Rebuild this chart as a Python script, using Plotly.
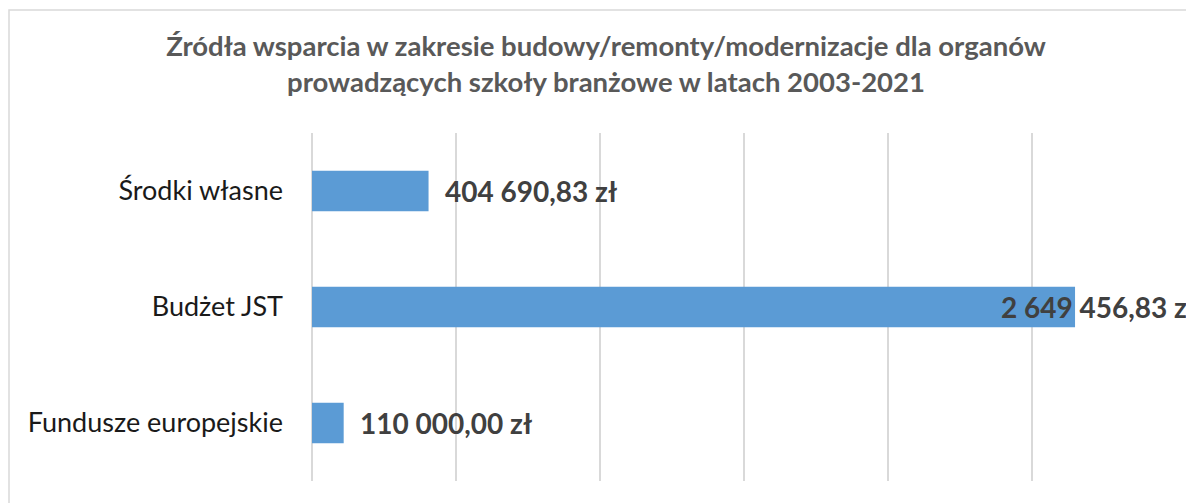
import plotly.graph_objects as go

categories = ["Środki własne", "Budżet JST", "Fundusze europejskie"]
values = [404690.83, 2649456.83, 110000.00]
title_lines = [
    "Źródła wsparcia w zakresie budowy/remonty/modernizacje dla organów",
    "prowadzących szkoły branżowe w latach 2003-2021",
]


def fmt_pln(v):
    s = f"{v:,.2f}".replace(",", " ").replace(".", ",")
    return s + " zł"


labels = [fmt_pln(v) for v in values]
label_shift = [14, -76, 14]

W, H = 1194, 503
# page body has an 8px margin; figure coordinates are page coordinates - 8
OFF = 8
L, R, T, B = 312 - OFF, W - (1176 - OFF), 133 - OFF, H - (481 - OFF)

fig = go.Figure()
fig.add_trace(go.Bar(
    x=values,
    y=categories,
    orientation="h",
    marker=dict(color="#5B9BD5", line=dict(width=0)),
    width=0.35,
    hoverinfo="skip",
))

for c, v, t, s in zip(categories, values, labels, label_shift):
    fig.add_annotation(
        x=v, y=c, xref="x", yref="y",
        text=f"<b>{t}</b>", showarrow=False,
        xanchor="left", yanchor="middle", xshift=s, yshift=0,
        font=dict(family="Lato", size=28, color="#404040"),
    )

pw, ph = W - L - R, H - T - B
# chart border (light grey frame)
fig.add_shape(
    type="rect", xref="paper", yref="paper",
    x0=(1 - L) / pw, x1=(1300 - L) / pw,
    y0=-0.3, y1=(H - B - 2) / ph,
    line=dict(color="#D9D9D9", width=1.5), fillcolor="rgba(0,0,0,0)",
    layer="below",
)

fig.update_layout(
    width=W, height=H,
    margin=dict(l=L, r=R, t=T, b=B, pad=0),
    paper_bgcolor="white", plot_bgcolor="white",
    showlegend=False,
    title=dict(
        text="<b>" + "<br>".join(title_lines) + "</b>",
        x=(606 - OFF) / W, xanchor="center", xref="container",
        y=1 - (56 - OFF) / H, yanchor="top", yref="container",
        font=dict(family="Lato", size=27.5, color="#595959"),
    ),
    xaxis=dict(
        range=[0, 3000000], dtick=500000, tick0=0,
        showticklabels=False, showgrid=True,
        gridcolor="#D9D9D9", gridwidth=2,
        zeroline=True, zerolinecolor="#D9D9D9", zerolinewidth=2,
        showline=False, fixedrange=True,
    ),
    yaxis=dict(
        categoryorder="array", categoryarray=categories[::-1],
        showgrid=False, zeroline=False, showline=False,
        ticks="", ticklabelstandoff=28,
        tickfont=dict(family="Lato", size=27, color="#1A1A1A"),
    ),
)

fig.write_html("out.html")
